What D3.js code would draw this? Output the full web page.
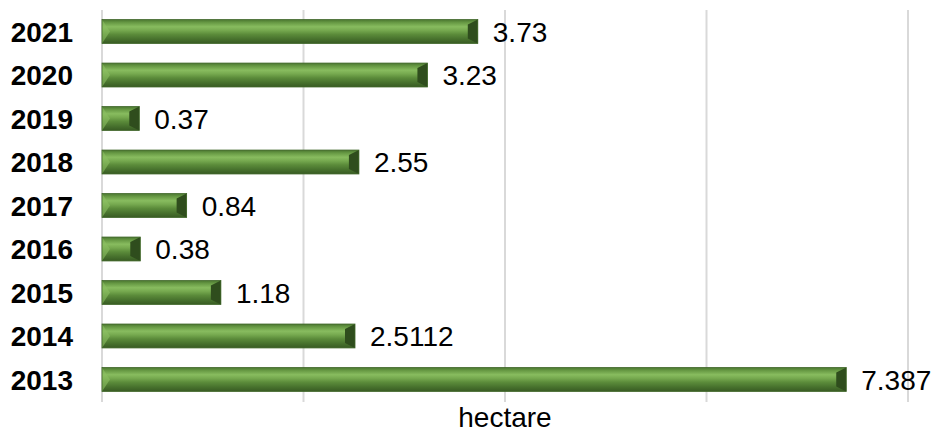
<!DOCTYPE html>
<html><head><meta charset="utf-8">
<script src="https://cdn.jsdelivr.net/npm/d3@7"></script>
<style>body{margin:0;background:#fff}svg{display:block}</style>
</head><body><svg id="c" width="938" height="434"></svg>
<script>
const years = ["2021","2020","2019","2018","2017","2016","2015","2014","2013"];
const values = [3.73,3.23,0.37,2.55,0.84,0.38,1.18,2.5112,7.387];
const labels = ["3.73","3.23","0.37","2.55","0.84","0.38","1.18","2.5112","7.387"];
const xTicks = [0,2,4,6,8];
const axisTitle = "hectare";

const svg = d3.select("#c");
const x = d3.scaleLinear().domain([0,8]).range([102,908]);
const y = d3.scaleBand().domain(years).range([10,401]).paddingInner(0.45).paddingOuter(0.22);
const font = "Liberation Sans, Arial, sans-serif";

const defs = svg.append("defs");
const g = defs.append("linearGradient").attr("id","bar").attr("x1",0).attr("y1",0).attr("x2",0).attr("y2",1);
[[0,"#4a7630"],[0.12,"#669843"],[0.3,"#88bc5f"],[0.45,"#76a94f"],[0.62,"#5b8b3a"],[0.82,"#47712d"],[1,"#385b23"]]
  .forEach(([o,c])=>g.append("stop").attr("offset",o).attr("stop-color",c));

svg.append("g").selectAll("line").data(xTicks).join("line")
  .attr("x1",d=>x(d)).attr("x2",d=>x(d)).attr("y1",10).attr("y2",402)
  .attr("stroke","#d9d9d9").attr("stroke-width",2);

const bw = y.bandwidth();
const bars = svg.append("g").selectAll("g").data(years).join("g");
bars.append("rect").attr("x",x(0)).attr("y",d=>y(d))
  .attr("width",(d,i)=>x(values[i])-x(0)).attr("height",bw).attr("fill","url(#bar)");
bars.append("path").attr("d",(d,i)=>{const y0=y(d),x0=x(0),b=Math.min(8,(x(values[i])-x0)/3);
  return `M${x0},${y0}L${x0+b},${y0+bw/2}L${x0},${y0+bw}Z`;}).attr("fill","#8cc063").attr("opacity",0.6);
bars.append("path").attr("d",(d,i)=>{const y0=y(d),x1=x(values[i]),b=Math.min(10,(x1-x(0))/3);
  return `M${x1},${y0}L${x1-b},${y0+5}L${x1-b},${y0+bw-5}L${x1},${y0+bw}Z`;}).attr("fill","#2f4d1d");
bars.append("rect").attr("x",x(0)).attr("y",d=>y(d)).attr("width",(d,i)=>x(values[i])-x(0)).attr("height",bw)
  .attr("fill","none").attr("stroke","#3f6628").attr("stroke-width",0.8);

svg.append("g").selectAll("text").data(years).join("text")
  .attr("x",(d,i)=>x(values[i])+15).attr("y",d=>y(d)+bw/2).attr("dy","0.36em")
  .attr("font-family",font).attr("font-size",28).attr("fill","#000")
  .text((d,i)=>labels[i]);

svg.append("g").selectAll("text").data(years).join("text")
  .attr("x",73).attr("y",d=>y(d)+bw/2).attr("dy","0.36em").attr("text-anchor","end")
  .attr("font-family",font).attr("font-size",28).attr("font-weight","bold").attr("fill","#000")
  .text(d=>d);

svg.append("text").attr("x",x(4)).attr("y",427).attr("text-anchor","middle")
  .attr("font-family",font).attr("font-size",28).attr("fill","#000").text(axisTitle);
</script></body></html>
